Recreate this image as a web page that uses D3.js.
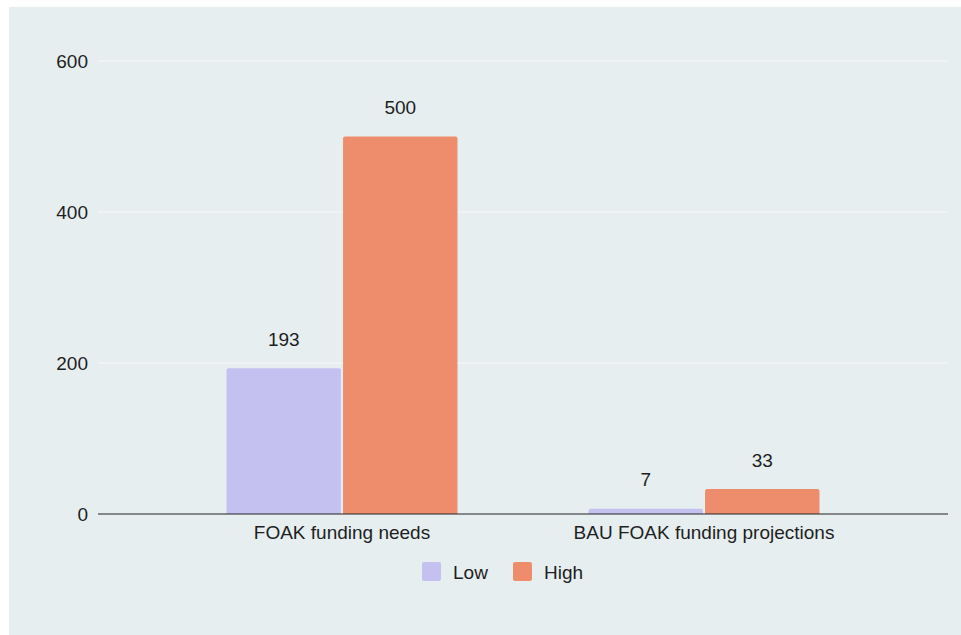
<!DOCTYPE html>
<html>
<head>
<meta charset="utf-8">
<script src="https://cdn.jsdelivr.net/npm/d3@7"></script>
<style>
  body { margin: 0; background: #fff; }
  svg text { font-family: "Liberation Sans", Arial, sans-serif; fill: #1e1e1e; }
</style>
</head>
<body>
<div id="chart"></div>
<script>
// data
const categories = ["FOAK funding needs", "BAU FOAK funding projections"];
const seriesNames = ["Low", "High"];
const lowValues = [193, 7];
const highValues = [500, 33];
const yTicks = [0, 200, 400, 600];
const colors = ["#c4c1f1", "#ee8d6b"];

let width = 961, height = 635;
let fontSize = "19px";

let svg = d3.select("#chart").append("svg")
    .attr("width", width)
    .attr("height", height);

// panel background
svg.append("rect")
    .attr("x", 9).attr("y", 7)
    .attr("width", width - 9).attr("height", height - 7)
    .style("fill", "#e6eef0");

let y = d3.scaleLinear().domain([0, 600]).range([514, 61]);

let x0 = d3.scaleBand().domain(categories)
    .range([161, 885])
    .paddingInner(0.362)
    .paddingOuter(0.181);

let x1 = d3.scaleBand().domain(seriesNames)
    .range([0, x0.bandwidth()])
    .paddingInner(0.018);

//grid lines
svg.append("g").selectAll("line")
    .data(yTicks.filter(d => d > 0))
    .enter().append("line")
    .attr("x1", 98).attr("x2", 948)
    .attr("y1", d => y(d)).attr("y2", d => y(d))
    .style("stroke", "#f6f9fa")
    .style("stroke-width", 1.2);

// y tick labels
svg.append("g").selectAll("text")
    .data(yTicks)
    .enter().append("text")
    .attr("x", 88)
    .attr("y", d => y(d))
    .attr("text-anchor", "end")
    .attr("dominant-baseline", "central")
    .style("font-size", fontSize)
    .text(d => d);

// bars
let rows = categories.map((c, i) => ({ cat: c, values: [lowValues[i], highValues[i]] }));

let groups = svg.append("g").selectAll("g")
    .data(rows)
    .enter().append("g")
    .attr("transform", d => "translate(" + x0(d.cat) + ",0)");

groups.selectAll("path")
    .data(d => d.values.map((v, i) => ({ key: seriesNames[i], value: v, idx: i })))
    .enter().append("path")
    .attr("d", d => {
        let bx = x1(d.key), bw = x1.bandwidth();
        let top = y(d.value), bot = y(0);
        let r = Math.min(2, (bot - top) / 2);
        return "M" + bx + "," + bot +
            "V" + (top + r) +
            "Q" + bx + "," + top + " " + (bx + r) + "," + top +
            "H" + (bx + bw - r) +
            "Q" + (bx + bw) + "," + top + " " + (bx + bw) + "," + (top + r) +
            "V" + bot + "Z";
    })
    .style("fill", d => colors[d.idx]);

groups.selectAll(".valueLabel")
    .data(d => d.values.map((v, i) => ({ key: seriesNames[i], value: v })))
    .enter().append("text")
    .attr("class", "valueLabel")
    .attr("x", d => x1(d.key) + x1.bandwidth() / 2)
    .attr("y", d => y(d.value) - 29)
    .attr("text-anchor", "middle")
    .attr("dominant-baseline", "central")
    .style("font-size", fontSize)
    .text(d => d.value);

// baseline
svg.append("line")
    .attr("x1", 98).attr("x2", 948)
    .attr("y1", y(0)).attr("y2", y(0))
    .style("stroke", "#222")
    .style("stroke-width", 1.2);

// category labels
svg.append("g").selectAll("text")
    .data(categories)
    .enter().append("text")
    .attr("x", d => x0(d) + x0.bandwidth() / 2)
    .attr("y", 532)
    .attr("text-anchor", "middle")
    .attr("dominant-baseline", "central")
    .style("font-size", fontSize)
    .text(d => d);

// legend
let legendX = [422, 513];
let legend = svg.append("g").selectAll("g")
    .data(seriesNames)
    .enter().append("g")
    .attr("transform", (d, i) => "translate(" + legendX[i] + ",562)");

legend.append("rect")
    .attr("width", 19).attr("height", 19)
    .attr("rx", 2)
    .style("fill", (d, i) => colors[i]);

legend.append("text")
    .attr("x", 31)
    .attr("y", 10)
    .attr("dominant-baseline", "central")
    .style("font-size", fontSize)
    .text(d => d);
</script>
</body>
</html>
